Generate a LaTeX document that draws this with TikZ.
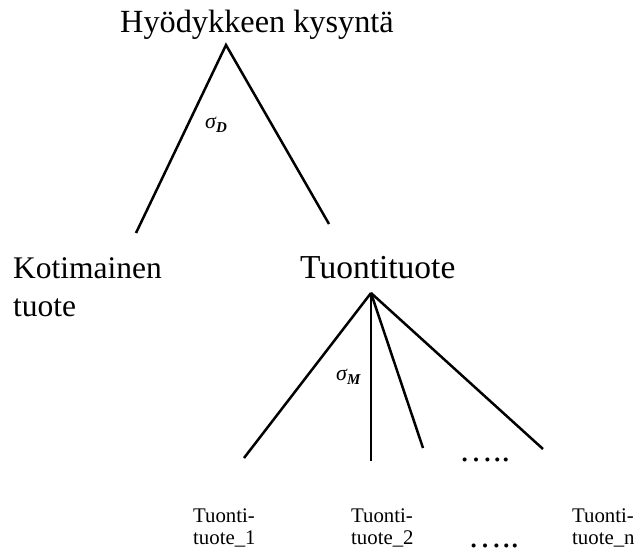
\documentclass[tikz,border=0pt]{standalone}
\usepackage{fontspec}
\setmainfont{Liberation Serif}
\begin{document}
\begin{tikzpicture}[x=1pt,y=-1pt,
  big/.style={font=\fontsize{31.5}{38}\selectfont, inner sep=0pt, anchor=base west},
  small/.style={font=\fontsize{20.8}{22}\selectfont, inner sep=0pt, anchor=base west},
  dotsty/.style={font=\fontsize{34}{40}\selectfont, inner sep=0pt, anchor=base west, text depth=0pt},
  branch/.style={line width=2.5pt},
  sig/.style={inner sep=0pt, anchor=base west, font=\fontsize{22}{24}\selectfont\itshape}]
\useasboundingbox (0,0) rectangle (636,552);
% texts
\node[big, font=\fontsize{32.3}{38}\selectfont] (title) at (120,32) {Hyödykkeen kysyntä};
\node[big] (koti) at (13,278) {\begin{tabular}[t]{@{}l@{}}Kotimainen\\tuote\end{tabular}};
\node[big, font=\fontsize{33.5}{38}\selectfont] (tuonti) at (300,278) {Tuontituote};
\node[small] (t1) at (193,522) {\begin{tabular}[t]{@{}l@{}}Tuonti-\\tuote\_1\end{tabular}};
\node[small] (t2) at (351,522) {\begin{tabular}[t]{@{}l@{}}Tuonti-\\tuote\_2\end{tabular}};
\node[small] (tn) at (572,522) {\begin{tabular}[t]{@{}l@{}}Tuonti-\\tuote\_n\end{tabular}};
\node[dotsty] (dots1) at (459,461) {…..};
\node[dotsty] (dots2) at (468,547) {…..};
\node[sig] (sD) at (205,128) {σ\raisebox{-4pt}{\fontsize{15}{16}\selectfont\bfseries\itshape D}};
\node[sig] (sM) at (336,380) {σ\raisebox{-4pt}{\fontsize{15}{16}\selectfont\bfseries\itshape M}};
% tree coordinates
\coordinate (top) at (226,45);
\coordinate (lD) at (136,233);
\coordinate (rD) at (329,224);
\coordinate (topM) at (371,293);
\coordinate (m1) at (244,458);
\coordinate (m2) at (371,461);
\coordinate (m3) at (423,448);
\coordinate (m4) at (543,449);
\draw[branch] (lD) -- (top) -- (rD);
\draw[branch] (topM) -- (m1);
\draw[branch] (topM) -- (m2);
\draw[branch] (topM) -- (m3);
\draw[branch] (topM) -- (m4);
\end{tikzpicture}
\end{document}
